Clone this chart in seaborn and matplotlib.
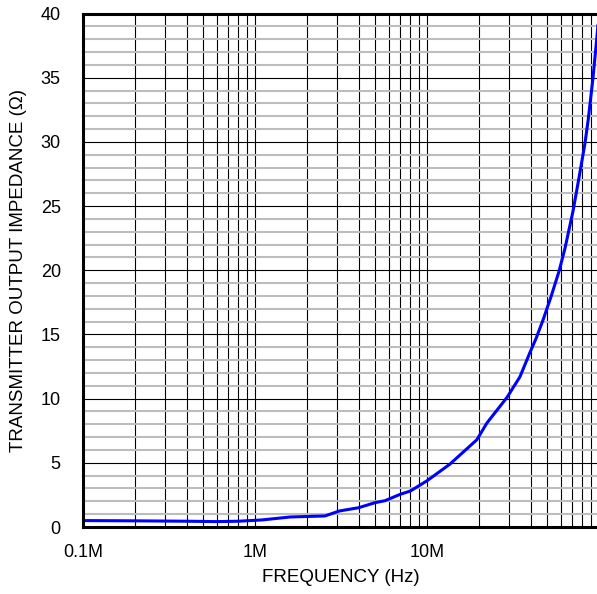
import numpy as np
import pandas as pd
import matplotlib
matplotlib.use("Agg")
import matplotlib.pyplot as plt
from matplotlib.ticker import FixedLocator, NullFormatter
import seaborn as sns

# Transmitter output impedance vs frequency
freq_hz = [1.0e5, 2.0e5, 4.0e5, 6.0e5, 8.0e5, 1.1e6, 1.6e6, 2.55e6, 3.1e6, 4.0e6,
           5.0e6, 5.7e6, 7.0e6, 8.0e6, 1.0e7, 1.36e7, 1.95e7, 2.23e7, 2.92e7,
           3.47e7, 3.97e7, 4.31e7, 4.72e7, 5.25e7, 5.85e7, 6.34e7, 7.06e7,
           7.65e7, 8.29e7, 8.65e7, 9.23e7, 9.73e7, 1.0e8]
impedance_ohm = [0.50, 0.48, 0.45, 0.42, 0.45, 0.55, 0.78, 0.86, 1.25, 1.50,
                 1.90, 2.05, 2.55, 2.80, 3.60, 4.90, 6.80, 8.10, 10.1,
                 11.7, 13.6, 14.7, 16.1, 17.9, 19.9, 21.7, 24.6,
                 27.2, 29.9, 31.7, 35.0, 38.2, 40.0]

x_ticks = [1e5, 1e6, 1e7]
x_tick_labels = ["0.1M", "1M", "10M"]
y_ticks = [0, 5, 10, 15, 20, 25, 30, 35, 40]

sns.set_style("white")
plt.rcParams["font.family"] = ["Liberation Sans", "DejaVu Sans"]
plt.rcParams.update({"text.color": "black", "axes.labelcolor": "black",
                     "xtick.color": "black", "ytick.color": "black"})

df = pd.DataFrame({"freq": freq_hz, "z": impedance_ohm})

fig = plt.figure(figsize=(5.97, 5.94), dpi=100)
ax = fig.add_axes([83 / 597, 1 - 527 / 594, (599 - 83) / 597, (527 - 13.5) / 594])

ax.set_xscale("log")
ax.set_xlim(1e5, 1e8)
ax.set_ylim(0, 40)

# grid: light-gray minor horizontals, black majors and decade subdivisions
ax.yaxis.set_minor_locator(FixedLocator([v for v in range(1, 40) if v % 5]))
ax.xaxis.set_minor_locator(FixedLocator(
    [m * 10 ** e for e in range(5, 8) for m in range(2, 10)]))
ax.xaxis.set_minor_formatter(NullFormatter())
ax.grid(which="minor", axis="y", color="#bdbdbd", linewidth=1.5)
ax.grid(which="major", axis="y", color="black", linewidth=0.8)
ax.grid(which="both", axis="x", color="black", linewidth=0.8)
ax.set_axisbelow(True)

sns.lineplot(data=df, x="freq", y="z", ax=ax, color="#0000ff", linewidth=2.2)

ax.set_xticks(x_ticks)
ax.set_xticklabels(x_tick_labels)
ax.set_yticks(y_ticks)
ax.tick_params(axis="both", which="both", length=0, labelsize=13,
               labelcolor="black")
ax.tick_params(axis="x", pad=12)
ax.tick_params(axis="y", pad=16)

for side in ("top", "left", "bottom"):
    ax.spines[side].set_linewidth(2.2)
    ax.spines[side].set_color("black")
ax.spines["right"].set_visible(False)

ax.set_xlabel("FREQUENCY (Hz)", fontsize=13.5, labelpad=6, color="black")
ax.set_ylabel("TRANSMITTER OUTPUT IMPEDANCE (Ω)", fontsize=13.5, labelpad=10,
              color="black")

fig.savefig("out.png", dpi=100)
